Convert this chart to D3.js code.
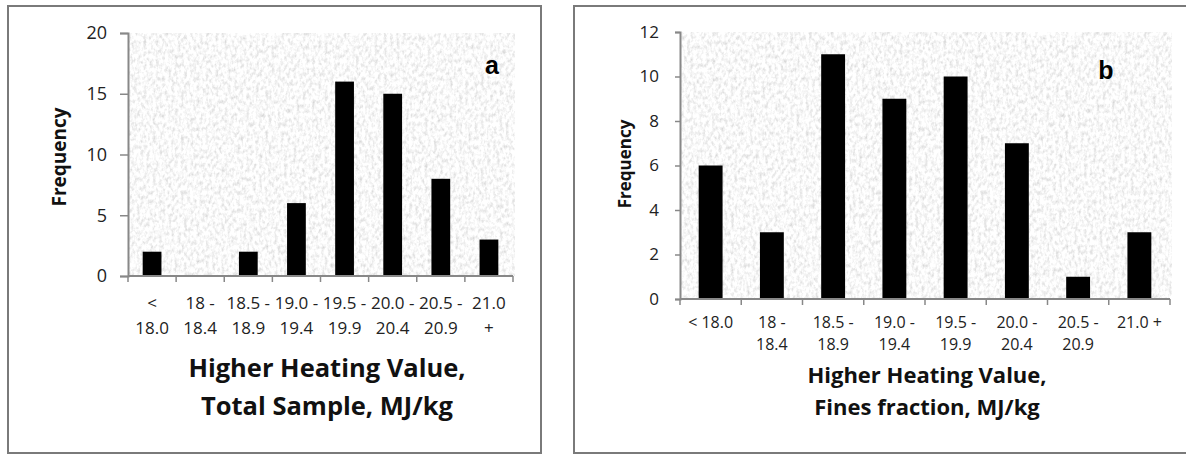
<!DOCTYPE html>
<html><head><meta charset="utf-8">
<script src="https://cdn.jsdelivr.net/npm/d3@7"></script>
<style>html,body{margin:0;padding:0;background:#fff;}svg{display:block;}</style>
</head><body>
<svg id="chart" width="1186" height="455"></svg>
<script>
// ---- data ----
const categoriesA = [["<","18.0"],["18 -","18.4"],["18.5 -","18.9"],["19.0 -","19.4"],["19.5 -","19.9"],["20.0 -","20.4"],["20.5 -","20.9"],["21.0","+"]];
const valuesA = [2,0,2,6,16,15,8,3];
const ticksA = [0,5,10,15,20];
const titleA = ["Higher Heating Value,","Total Sample, MJ/kg"];

const categoriesB = [["< 18.0"],["18 -","18.4"],["18.5 -","18.9"],["19.0 -","19.4"],["19.5 -","19.9"],["20.0 -","20.4"],["20.5 -","20.9"],["21.0 +"]];
const valuesB = [6,3,11,9,10,7,1,3];
const ticksB = [0,2,4,6,8,10,12];
const titleB = ["Higher Heating Value,","Fines fraction, MJ/kg"];

const svg = d3.select("#chart");
const FONT = "'Open Sans', 'Noto Sans', sans-serif";

// texture filter
const defs = svg.append("defs");
const f = defs.append("filter").attr("id","tex").attr("x",0).attr("y",0).attr("width","100%").attr("height","100%");
f.append("feTurbulence").attr("type","fractalNoise").attr("baseFrequency","0.32 0.22").attr("numOctaves",3).attr("seed",4).attr("result","n");
f.append("feColorMatrix").attr("in","n").attr("type","matrix")
 .attr("values","0.65 0 0 0 0.62  0.65 0 0 0 0.62  0.65 0 0 0 0.62  0 0 0 0 1");

function panel(cfg){
  const g = svg.append("g");
  g.append("rect").attr("x",cfg.box[0]).attr("y",cfg.box[1]).attr("width",cfg.box[2]).attr("height",cfg.box[3])
    .attr("fill","#fff").attr("stroke","#7a7a7a").attr("stroke-width",2);
  const x = d3.scaleBand().domain(d3.range(cfg.cats.length)).range([cfg.x0,cfg.x1]).padding(0);
  const y = d3.scaleLinear().domain([0,cfg.ymax]).range([cfg.y0,cfg.yTop]);
  g.append("rect").attr("x",cfg.x0).attr("y",cfg.yTop).attr("width",cfg.x1-cfg.x0+2).attr("height",cfg.y0-cfg.yTop)
    .attr("filter","url(#tex)");
  // bars
  const bw = x.bandwidth()*cfg.barFrac;
  g.selectAll("rect.bar").data(cfg.values).join("rect").attr("class","bar")
    .attr("x",(d,i)=>x(i)+x.bandwidth()/2-bw/2).attr("width",bw)
    .attr("y",d=>y(d)).attr("height",d=>cfg.y0-y(d)).attr("fill","#000");
  // y axis
  const ya = g.append("g").attr("transform",`translate(${cfg.x0},0)`)
    .call(d3.axisLeft(y).tickValues(cfg.ticks).tickSize(cfg.ytick).tickPadding(cfg.ypad));
  ya.select(".domain").attr("stroke","#888").attr("stroke-width",2);
  ya.selectAll(".tick line").attr("stroke","#888").attr("stroke-width",1.5);
  ya.selectAll(".tick text").attr("font-family",FONT).attr("font-size",cfg.yfs).attr("fill","#222");
  // x axis: boundary ticks
  const bounds = d3.range(cfg.cats.length+1).map(i=> i<cfg.cats.length ? x(i) : cfg.x1);
  g.append("line").attr("x1",cfg.x0).attr("x2",cfg.x1).attr("y1",cfg.y0).attr("y2",cfg.y0).attr("stroke","#888").attr("stroke-width",2);
  g.selectAll("line.xt").data(bounds).join("line").attr("class","xt")
    .attr("x1",d=>d).attr("x2",d=>d).attr("y1",cfg.y0).attr("y2",cfg.y0+6).attr("stroke","#888").attr("stroke-width",1.5);
  // x labels
  cfg.cats.forEach((lines,i)=>{
    lines.forEach((t,j)=>{
      g.append("text").attr("x",x(i)+x.bandwidth()/2).attr("y",cfg.xlab[j]).attr("text-anchor","middle")
        .attr("font-family",FONT).attr("font-size",cfg.xfs).attr("fill","#222").text(t);
    });
  });
  // y title
  g.append("text").attr("transform",`translate(${cfg.ytx},${cfg.yty}) rotate(-90)`).attr("text-anchor","middle")
    .attr("dominant-baseline","central").attr("font-family",FONT).attr("font-weight","bold").attr("font-size",cfg.ytfs).attr("fill","#111").text("Frequency");
  // x title
  cfg.title.forEach((t,j)=>{
    g.append("text").attr("x",cfg.tcx).attr("y",cfg.tys[j]).attr("text-anchor","middle")
      .attr("font-family",FONT).attr("font-weight","bold").attr("font-size",cfg.tfs).attr("fill","#111").text(t);
  });
  // panel letter
  g.append("text").attr("x",cfg.lx).attr("y",cfg.ly).attr("text-anchor","middle")
    .attr("font-family","'Liberation Sans', Arial, sans-serif").attr("font-weight","bold").attr("font-size",25).text(cfg.letter);
}

panel({box:[8,6,533,447], cats:categoriesA, values:valuesA, ticks:ticksA, ymax:20,
  x0:128, x1:513, y0:276, yTop:33, barFrac:0.39, ytick:8, ypad:13, yfs:18,
  xlab:[309,334], xfs:17, ytx:59, yty:157, ytfs:19, title:titleA, tcx:327, tys:[377,415], tfs:25.5,
  letter:"a", lx:492, ly:74});
panel({box:[574,6,620,447], cats:categoriesB, values:valuesB, ticks:ticksB, ymax:12,
  x0:680, x1:1170, y0:299, yTop:32, barFrac:0.39, ytick:5, ypad:16, yfs:17,
  xlab:[328,350], xfs:16, ytx:624, yty:164, ytfs:17, title:titleB, tcx:927, tys:[383,415], tfs:22,
  letter:"b", lx:1106, ly:79});
</script>
</body></html>
